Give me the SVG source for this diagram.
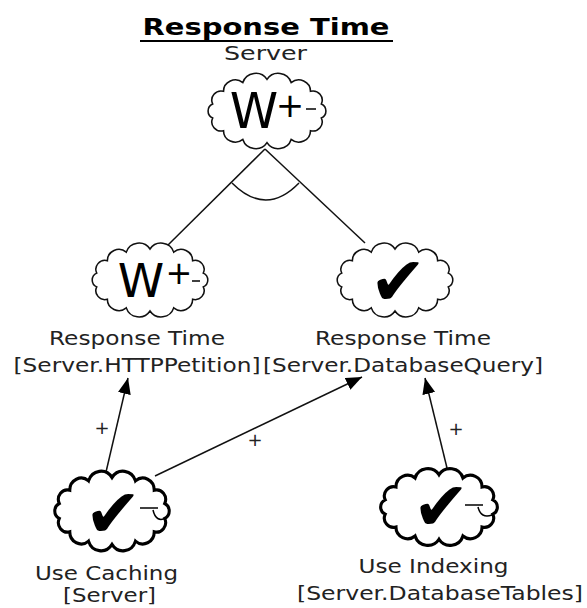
<svg xmlns="http://www.w3.org/2000/svg" xmlns:xlink="http://www.w3.org/1999/xlink" width="587" height="608" viewBox="0 0 587 608">
<style>
.lbl{font-family:"DejaVu Sans","Verdana",sans-serif;fill:#222;text-anchor:middle}
.cloud{fill:#fff;stroke:#111;stroke-width:1.5}
.cloudb{fill:#fff;stroke:#000;stroke-width:3}
.ln{stroke:#111;stroke-width:1.5;fill:none}
.sym{font-family:"DejaVu Sans",sans-serif;fill:#000;text-anchor:middle}
.chk{font-family:"DejaVu Sans",sans-serif;fill:#000;text-anchor:middle;font-size:68px}
</style>
<defs>
<path id="cl" d="M0,-31 A12.8,12.8 0 0 1 23,-27.9 A11.2,11.2 0 0 1 41.4,-19.3 A8.9,8.9 0 0 1 51.7,-6.9 A7.6,7.6 0 0 1 51.7,6.9 A8.9,8.9 0 0 1 41.4,19.3 A11.2,11.2 0 0 1 23,27.9 A12.8,12.8 0 0 1 0,31 A12.8,12.8 0 0 1 -23,27.9 A11.2,11.2 0 0 1 -41.4,19.3 A8.9,8.9 0 0 1 -51.7,6.9 A7.6,7.6 0 0 1 -51.7,-6.9 A8.9,8.9 0 0 1 -41.4,-19.3 A11.2,11.2 0 0 1 -23,-27.9 A12.8,12.8 0 0 1 0,-31 Z"/>
<marker id="ah" markerUnits="userSpaceOnUse" markerWidth="18" markerHeight="14" refX="16" refY="6.5" orient="auto">
<path d="M0,0 L16,6.5 L0,13 Z" fill="#000"/>
</marker>
</defs>

<g id="title">
<text x="266" y="35" font-family="DejaVu Sans,sans-serif" font-weight="bold" font-size="23" text-anchor="middle" textLength="247" lengthAdjust="spacingAndGlyphs">Response Time</text>
<line x1="140" y1="41" x2="393" y2="41" stroke="#000" stroke-width="2"/>
<text class="lbl" x="265.5" y="60" font-size="20" textLength="83" lengthAdjust="spacingAndGlyphs">Server</text>
</g>

<g id="connectors">
<line class="ln" x1="265" y1="149" x2="167" y2="246"/>
<line class="ln" x1="265" y1="149" x2="365" y2="243"/>
<path class="ln" d="M232,183 Q266,217 299,183"/>
<line class="ln" x1="106" y1="472" x2="128" y2="378" marker-end="url(#ah)"/>
<line class="ln" x1="155" y1="476" x2="362" y2="377" marker-end="url(#ah)"/>
<line class="ln" x1="447" y1="468" x2="425" y2="378" marker-end="url(#ah)"/>
<text class="lbl" x="102" y="434" font-size="18">+</text>
<text class="lbl" x="255" y="446" font-size="18">+</text>
<text class="lbl" x="456" y="435" font-size="18">+</text>
</g>

<g id="n-top">
<use xlink:href="#cl" class="cloud" transform="translate(267,111) scale(1.05,1.02)"/>
<text class="sym" x="254" y="128" font-size="49">W</text>
<text class="sym" x="290" y="117" font-size="34">+</text>
<line x1="306" y1="109" x2="316" y2="109" stroke="#000" stroke-width="1.5"/>
</g>

<g id="n-http">
<use xlink:href="#cl" class="cloud" transform="translate(150,280) scale(1.03,1)"/>
<text class="sym" x="141" y="297" font-size="47">W</text>
<text class="sym" x="179" y="284" font-size="32">+</text>
<line x1="192" y1="281" x2="200" y2="281" stroke="#000" stroke-width="1.5"/>
<text class="lbl" x="137" y="345" font-size="19" textLength="176" lengthAdjust="spacingAndGlyphs">Response Time</text>
<text class="lbl" x="137" y="372" font-size="19" textLength="247" lengthAdjust="spacingAndGlyphs">[Server.HTTPPetition]</text>
</g>

<g id="n-db">
<use xlink:href="#cl" class="cloud" transform="translate(395,280) scale(1.03,1)"/>
<text class="chk" x="398" y="305">✔</text>
<text class="lbl" x="403" y="345" font-size="19" textLength="176" lengthAdjust="spacingAndGlyphs">Response Time</text>
<text class="lbl" x="403" y="372" font-size="19" textLength="280" lengthAdjust="spacingAndGlyphs">[Server.DatabaseQuery]</text>
</g>

<g id="n-caching">
<use xlink:href="#cl" class="cloudb" transform="translate(112,511) scale(1.02,1.08)"/>
<text class="chk" x="113" y="537">✔</text>
<line x1="140" y1="508" x2="158" y2="508" stroke="#000" stroke-width="1.5"/>
<path d="M153,510 Q156,523 166,518" fill="none" stroke="#000" stroke-width="1.5"/>
<text class="lbl" x="106.5" y="580" font-size="20" textLength="143" lengthAdjust="spacingAndGlyphs">Use Caching</text>
<text class="lbl" x="109.5" y="602" font-size="20" textLength="93" lengthAdjust="spacingAndGlyphs">[Server]</text>
</g>

<g id="n-indexing">
<use xlink:href="#cl" class="cloudb" transform="translate(439,507) scale(1.04,1.04)"/>
<text class="chk" x="441" y="530">✔</text>
<line x1="465" y1="505" x2="483" y2="505" stroke="#000" stroke-width="1.5"/>
<path d="M478,507 Q481,519 492,515" fill="none" stroke="#000" stroke-width="1.5"/>
<text class="lbl" x="433.5" y="573" font-size="20" textLength="150" lengthAdjust="spacingAndGlyphs">Use Indexing</text>
<text class="lbl" x="440" y="600" font-size="20" textLength="286" lengthAdjust="spacingAndGlyphs">[Server.DatabaseTables]</text>
</g>
</svg>
